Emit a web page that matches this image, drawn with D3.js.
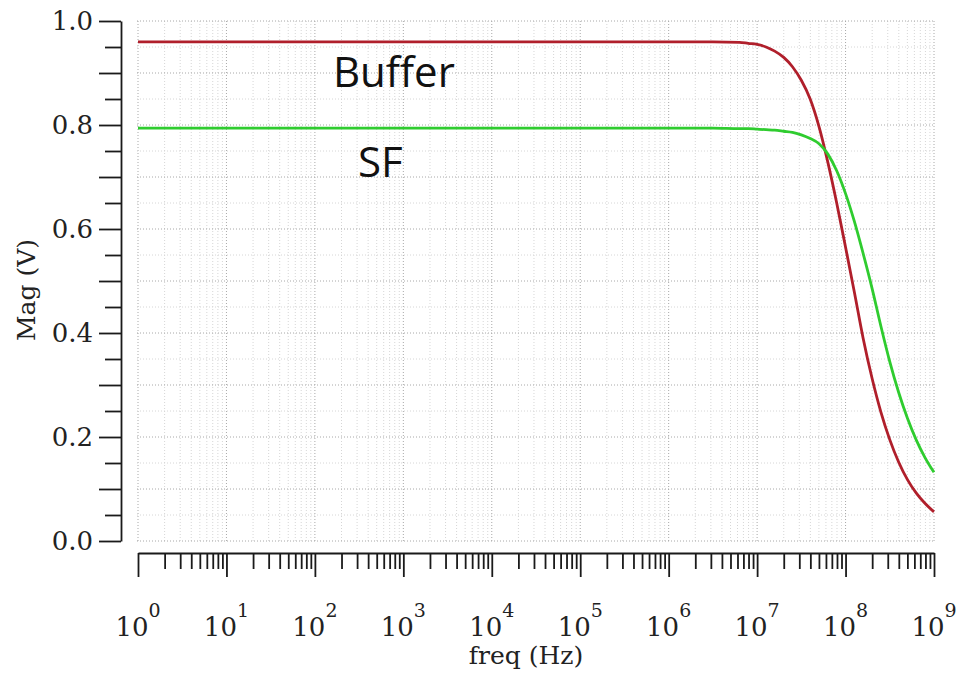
<!DOCTYPE html>
<html>
<head>
<meta charset="utf-8">
<script src="https://cdn.jsdelivr.net/npm/d3@7"></script>
<style>
  body { margin: 0; background: #fff; }
  svg { display: block; }
</style>
</head>
<body>
<svg id="chart"></svg>
<script>
// values (same frequency points for both curves)
const freq = [1, 1e3, 1e6, 3.16e6, 6.31e6, 7.94e6, 1e7, 1.26e7, 1.58e7, 2.0e7, 2.51e7, 3.16e7, 3.98e7, 5.01e7, 6.31e7, 7.94e7,
  1e8, 1.26e8, 1.58e8, 2.0e8, 2.51e8, 3.16e8, 3.98e8, 5.01e8, 6.31e8, 7.94e8, 1e9];
const bufferMag = [0.96, 0.96, 0.96, 0.96, 0.959, 0.957, 0.955, 0.95, 0.942, 0.93, 0.912, 0.886, 0.85, 0.797, 0.728, 0.65,
  0.565, 0.478, 0.39, 0.312, 0.248, 0.195, 0.152, 0.118, 0.092, 0.072, 0.056];
const sfMag = [0.794, 0.794, 0.794, 0.794, 0.793, 0.793, 0.792, 0.791, 0.79, 0.788, 0.786, 0.781, 0.774, 0.764, 0.744, 0.712,
  0.668, 0.614, 0.553, 0.485, 0.413, 0.345, 0.286, 0.236, 0.194, 0.16, 0.132];

const decades = [0, 1, 2, 3, 4, 5, 6, 7, 8, 9];
const yLabels = [0, 0.2, 0.4, 0.6, 0.8, 1.0];

// curve annotations (freq, mag at baseline)
const labels = [
  { text: "Buffer", freq: 160, mag: 0.873 },
  { text: "SF", freq: 307, mag: 0.7 }
];

const width = 962, height = 680;
const plot = { left: 138, right: 934, top: 21, bottom: 541 };

const svg = d3.select("#chart").attr("width", width).attr("height", height);

const x = d3.scaleLog().domain([1, 1e9]).range([plot.left, plot.right]);
const y = d3.scaleLinear().domain([0, 1]).range([plot.bottom, plot.top]);

// all log ticks 1..9 x 10^k
let logTicks = [];
decades.forEach(k => {
  for (let m = 1; m <= 9; m++) {
    const v = m * Math.pow(10, k);
    if (v <= 1e9) logTicks.push(v);
  }
});
const isDecade = v => Math.abs(Math.log10(v) - Math.round(Math.log10(v))) < 1e-9;

const yTicks = d3.range(0, 21).map(i => +(i * 0.05).toFixed(2));
const isTenth = v => Math.abs(v * 10 - Math.round(v * 10)) < 1e-6;

// grid
const grid = svg.append("g").attr("fill", "none").attr("stroke-dasharray", "1,2");
grid.selectAll("line.v")
  .data(logTicks)
  .join("line")
  .attr("x1", d => x(d)).attr("x2", d => x(d))
  .attr("y1", plot.top).attr("y2", plot.bottom)
  .attr("stroke", d => isDecade(d) ? "#a8a8a8" : "#d6d6d6")
  .attr("stroke-width", 1);
grid.selectAll("line.h")
  .data(yTicks)
  .join("line")
  .attr("x1", plot.left - 1).attr("x2", plot.right)
  .attr("y1", d => y(d)).attr("y2", d => y(d))
  .attr("stroke", d => isTenth(d) ? "#a8a8a8" : "#d6d6d6")
  .attr("stroke-width", 1);

// y axis (offset to the left of the plot)
const yAxis = svg.append("g")
  .attr("transform", "translate(121,0)")
  .call(d3.axisLeft(y)
    .tickValues(yTicks)
    .tickSize(22)
    .tickSizeOuter(0)
    .tickPadding(6)
    .tickFormat(d => yLabels.some(v => Math.abs(v - d) < 1e-6) ? d3.format(".1f")(d) : ""));
yAxis.selectAll(".tick line").attr("x2", d => isTenth(d) ? -22 : -16);
yAxis.selectAll("path, line").attr("stroke", "#1a1a1a").attr("stroke-width", 1.8);
yAxis.selectAll("text")
  .attr("font-family", "DejaVu Serif")
  .attr("font-size", 26)
  .attr("fill", "#222");

// x axis (offset below the plot)
const xAxis = svg.append("g")
  .attr("transform", "translate(0,553)")
  .call(d3.axisBottom(x)
    .tickValues(logTicks)
    .tickSize(24)
    .tickSizeOuter(0)
    .tickFormat(""));
xAxis.selectAll(".tick line").attr("y2", d => isDecade(d) ? 24 : 16);
xAxis.selectAll("path, line").attr("stroke", "#1a1a1a").attr("stroke-width", 1.8);

// decade labels 10^k
const xl = svg.append("g")
  .attr("font-family", "DejaVu Serif")
  .attr("fill", "#222")
  .selectAll("text")
  .data(decades)
  .join("text")
  .attr("x", d => x(Math.pow(10, d)))
  .attr("y", 636)
  .attr("text-anchor", "middle");
xl.append("tspan").attr("font-size", 26).text("10");
xl.append("tspan").attr("font-size", 19).attr("dy", -19).text(d => d);

// axis titles
svg.append("text")
  .attr("x", (plot.left + plot.right) / 2 - 10)
  .attr("y", 664)
  .attr("text-anchor", "middle")
  .attr("font-family", "DejaVu Serif")
  .attr("font-size", 25)
  .attr("fill", "#222")
  .text("freq (Hz)");

svg.append("text")
  .attr("transform", "translate(35,290) rotate(-90)")
  .attr("text-anchor", "middle")
  .attr("font-family", "DejaVu Serif")
  .attr("font-size", 25)
  .attr("fill", "#222")
  .text("Mag (V)");

// curves
const line = d3.line()
  .x(d => x(d[0]))
  .y(d => y(d[1]))
  .curve(d3.curveMonotoneX);

const series = [
  { name: "Buffer", color: "#b01f2b", pts: d3.zip(freq, bufferMag) },
  { name: "SF", color: "#2fcc2f", pts: d3.zip(freq, sfMag) }
];

svg.append("g")
  .attr("fill", "none")
  .selectAll("path")
  .data(series)
  .join("path")
  .attr("stroke", d => d.color)
  .attr("stroke-width", 2.8)
  .attr("d", d => line(d.pts));

// annotations
svg.append("g")
  .attr("font-family", "Open Sans")
  .attr("font-size", 42)
  .attr("fill", "#111")
  .selectAll("text")
  .data(labels)
  .join("text")
  .attr("x", d => x(d.freq))
  .attr("y", d => y(d.mag))
  .text(d => d.text);
</script>
</body>
</html>
